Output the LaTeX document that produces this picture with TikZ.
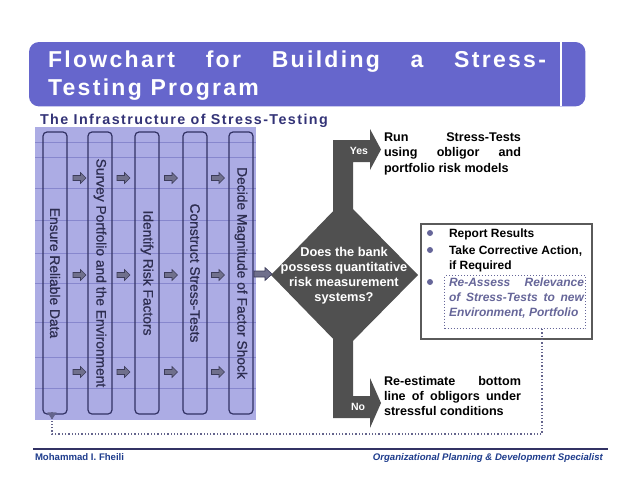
\documentclass[tikz,border=0pt]{standalone}
\usepackage{fontspec}
\setmainfont{Liberation Sans}
\newfontfamily\titlefont[LetterSpace=10]{Liberation Sans}
\newfontfamily\subfont[LetterSpace=10]{Liberation Sans}
\newfontfamily\colfont[FakeBold=0.9]{Liberation Sans}
\usetikzlibrary{arrows.meta}
\definecolor{titleblue}{RGB}{102,102,204}
\definecolor{subblue}{RGB}{51,51,119}
\definecolor{panelblue}{RGB}{172,172,228}
\definecolor{gridblue}{RGB}{135,135,205}
\definecolor{colnavy}{RGB}{50,50,100}
\definecolor{coltxt}{RGB}{45,45,80}
\definecolor{arrgray}{RGB}{112,112,140}
\definecolor{arredge}{RGB}{60,60,90}
\definecolor{dkgray}{RGB}{80,80,80}
\definecolor{bulletc}{RGB}{102,102,153}
\definecolor{fbcol}{RGB}{100,100,140}
\definecolor{footblue}{RGB}{30,60,140}
\definecolor{boxgray}{RGB}{90,90,90}
\begin{document}
\begin{tikzpicture}[x=1pt,y=-1pt,
  lbl/.style={inner sep=0pt,outer sep=0pt,anchor=base west},
  colbox/.style={draw=colnavy,line width=1.2pt,rounded corners=4pt,minimum width=282pt,minimum height=24pt,inner sep=0pt,rotate=-90,text=coltxt,font=\colfont\fontsize{13.8}{16}\selectfont},
  blockarr/.pic={\filldraw[fill=arrgray,draw=arredge,line width=0.6pt] (-6.5,-2.5) -- (1,-2.5) -- (1,-5.5) -- (6.5,0) -- (1,5.5) -- (1,2.5) -- (-6.5,2.5) -- cycle;},
  bigarr/.pic={\filldraw[fill=arrgray,draw=arredge,line width=0.6pt] (-9,-3) -- (2,-3) -- (2,-6.5) -- (9,0) -- (2,6.5) -- (2,3) -- (-9,3) -- cycle;},
  bullet/.style={circle,fill=bulletc,inner sep=0pt,minimum size=6pt},
  fb/.style={draw=fbcol,line width=1.3pt,dotted},
  bodyfont/.style={font=\fontsize{12.6}{15}\selectfont\bfseries},
]
\useasboundingbox (0,0) rectangle (638,493);

% title
\node[minimum width=556pt,minimum height=64pt,anchor=north west,inner sep=0pt] (titlebox) at (29,42) {};
\fill[titleblue,rounded corners=10pt] (titlebox.north west) rectangle (titlebox.south east);
\draw[white,line width=2pt] (titlebox.north west -| 561,0) -- (titlebox.south west -| 561,0);
\node[lbl,text=white] (title1) at (48,67) {\titlefont\bfseries\fontsize{23}{28}\selectfont\makebox[498pt][s]{Flowchart for Building a Stress-}};
\node[lbl,text=white] (title2) at (48,95) {\titlefont\bfseries\fontsize{23}{28}\selectfont Testing Program};
\node[lbl,text=subblue] (subtitle) at (40,124) {\subfont\bfseries\fontsize{14.3}{16}\selectfont The Infrastructure of Stress-Testing};

% panel
\node[fill=panelblue,minimum width=221pt,minimum height=293pt,anchor=north west,inner sep=0pt] (panel) at (35,127) {};
\foreach \yy in {142,157,188,220,253,283,322,357,388}
  \draw[gridblue,line width=0.5pt] (35,\yy) -- (256,\yy);

\node[colbox] (c1) at (55,273) {Ensure Reliable Data};
\node[colbox] (c2) at (100,273) {Survey Portfolio and the Environment};
\node[colbox] (c3) at (147,273) {Identify Risk Factors};
\node[colbox] (c4) at (195,273) {Construct Stress-Tests};
\node[colbox] (c5) at (241,273) {Decide Magnitude of Factor Shock};

\foreach \xx in {79.5,123.5,171,218}
  \foreach \yy in {178,275,372}
    \pic at (\xx,\yy) {blockarr};

% decision
\coordinate (dl) at (271,275);
\coordinate (dt) at (344,200);
\coordinate (dr) at (418,275);
\coordinate (db) at (344,350);
\fill[dkgray] (333,275) -- (333,140) -- (370,140) -- (370,129) -- (381,149.5) -- (370,170) -- (370,162) -- (353,162) -- (353,275) -- cycle;
\fill[dkgray] (333,275) -- (333,418) -- (370,418) -- (370,428) -- (381,403) -- (370,378) -- (370,396) -- (353,396) -- (353,275) -- cycle;
\fill[dkgray] (dl) -- (dt) -- (dr) -- (db) -- cycle;
\node[text=white,align=center,inner sep=0pt,font=\fontsize{12.8}{15}\selectfont\bfseries] (q) at (344,276) {Does the bank\\possess quantitative\\risk measurement\\systems?};
\pic at (263,274) {bigarr};
\node[text=white,inner sep=0pt,font=\fontsize{10.5}{12}\selectfont\bfseries] (yeslbl) at (359,151) {Yes};
\node[text=white,inner sep=0pt,font=\fontsize{10.5}{12}\selectfont\bfseries] (nolbl) at (358,407) {No};

% yes / no texts
\node[lbl,bodyfont] (yestext) at (384,141) {\vtop{\baselineskip=15.5pt
  \hbox{\makebox[137pt][s]{Run Stress-Tests}}
  \hbox{\makebox[137pt][s]{using obligor and}}
  \hbox{portfolio risk models}}};
\node[lbl,bodyfont] (notext) at (384,385) {\vtop{\baselineskip=15pt
  \hbox{\makebox[137pt][s]{Re-estimate bottom}}
  \hbox{\makebox[137pt][s]{line of obligors under}}
  \hbox{stressful conditions}}};

% report box
\node[draw=boxgray,line width=2pt,minimum width=171pt,minimum height=115pt,anchor=north west,inner sep=0pt] (report) at (420,223) {};
\node[draw=bulletc,line width=1pt,dotted,minimum width=141pt,minimum height=53pt,anchor=north west,inner sep=0pt] (reassess) at (444,275) {};
\node[bullet] (b1) at (430,233) {};
\node[bullet] (b2) at (430,250) {};
\node[bullet] (b3) at (430,282) {};
\node[lbl,font=\fontsize{12}{14}\selectfont\bfseries] (r1) at (449,237.5) {Report Results};
\node[lbl,font=\fontsize{12}{14}\selectfont\bfseries] (r2) at (449,254.5) {\vtop{\baselineskip=14.5pt
  \hbox{Take Corrective Action,}
  \hbox{if Required}}};
\node[lbl,text=bulletc,font=\fontsize{12}{14}\selectfont\bfseries\itshape] (r3) at (449,286.5) {\vtop{\baselineskip=14.8pt
  \hbox{\makebox[135pt][s]{Re-Assess Relevance}}
  \hbox{\makebox[135pt][s]{of Stress-Tests to new}}
  \hbox{Environment, Portfolio}}};

% feedback loop
\coordinate (fb1) at (542,434);
\coordinate (fb2) at (52,434);
\draw[fb] (reassess.south -| fb1) -- (fb1) -- (fb2) -- ([yshift=8pt]fb2 |- panel.south);
\draw[fbcol,line width=1.3pt,-{Triangle[width=9pt,length=7pt]}] ([yshift=8.5pt]fb2 |- panel.south) -- ([yshift=1pt]fb2 |- panel.south);

% footer
\draw[colnavy,line width=1.2pt] (33,449) -- (608,449);
\node[lbl,text=footblue,font=\fontsize{9.6}{11}\selectfont\bfseries] (author) at (35,460.5) {Mohammad I. Fheili};
\node[inner sep=0pt,anchor=base east,text=footblue,font=\fontsize{9.6}{11}\selectfont\bfseries\itshape] (role) at (603,460.5) {Organizational Planning \& Development Specialist};
\end{tikzpicture}
\end{document}
